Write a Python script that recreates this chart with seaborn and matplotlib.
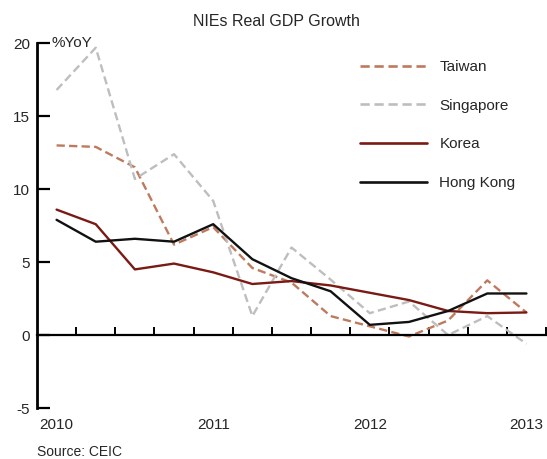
import numpy as np
import pandas as pd
import seaborn as sns
import matplotlib.pyplot as plt
from matplotlib.ticker import FixedLocator

# Quarterly real GDP growth, %YoY.
quarters = ["2010Q1", "2010Q2", "2010Q3", "2010Q4",
            "2011Q1", "2011Q2", "2011Q3", "2011Q4",
            "2012Q1", "2012Q2", "2012Q3", "2012Q4",
            "2013Q1"]
taiwan = [13.0, 12.9, 11.5, 6.2, 7.4, 4.6, 3.6, 1.3, 0.6, -0.1, 1.0, 3.75, 1.55]
singapore = [16.8, 19.7, 10.7, 12.4, 9.2, 1.3, 6.0, 3.8, 1.5, 2.3, 0.0, 1.3, -0.6]
korea = [8.6, 7.6, 4.5, 4.9, 4.3, 3.5, 3.7, 3.4, 2.9, 2.4, 1.65, 1.5, 1.55]
hong_kong = [7.9, 6.4, 6.6, 6.4, 7.6, 5.2, 3.9, 3.0, 0.7, 0.9, 1.65, 2.85, 2.85]

year_ticks = ["2010", "2011", "2012", "2013"]
y_ticks = [-5, 0, 5, 10, 15, 20]

series = ["Taiwan", "Singapore", "Korea", "Hong Kong"]
colors = {"Taiwan": "#BF7A5E", "Singapore": "#BEBEBE",
          "Korea": "#7A1A14", "Hong Kong": "#111111"}
dashes = {"Taiwan": (3.5, 1.8), "Singapore": (3.5, 1.8),
          "Korea": "", "Hong Kong": ""}

df = pd.DataFrame({
    "quarter": quarters * 4,
    "country": np.repeat(series, len(quarters)),
    "growth": taiwan + singapore + korea + hong_kong,
})

sns.set_theme(style="white")
plt.rcParams["font.family"] = ["Liberation Sans", "DejaVu Sans"]

fig = plt.figure(figsize=(5.47, 4.59), dpi=100)
ax = fig.add_axes([37 / 547, 1 - 408 / 459, (546 - 37) / 547, (408 - 43.3) / 459])

sns.lineplot(data=df, x="quarter", y="growth", hue="country", style="country",
             hue_order=series, style_order=series, palette=colors, dashes=dashes,
             linewidth=1.7, sort=False, ax=ax)

ax.set_xlim(-0.5, len(quarters) - 0.5)
ax.set_ylim(-5, 20)
ax.set_xlabel("")
ax.set_ylabel("")

# Spines: left axis plus a zero line carrying the quarter ticks.
for s in ["top", "right"]:
    ax.spines[s].set_visible(False)
ax.spines["left"].set_linewidth(2.0)
ax.spines["left"].set_color("black")
ax.spines["bottom"].set_position(("data", 0))
ax.spines["bottom"].set_linewidth(1.6)
ax.spines["bottom"].set_color("black")

ax.set_yticks(y_ticks)
ax.set_yticklabels([str(v) for v in y_ticks])
ax.tick_params(axis="y", direction="in", length=9, width=1.6, color="black",
               left=True, pad=5, labelsize=11)

ax.set_xticks([0, 4, 8, 12])
ax.set_xticklabels(year_ticks)
ax.xaxis.set_minor_locator(FixedLocator(np.arange(0.5, len(quarters), 1)))
ax.tick_params(axis="x", which="major", length=0, pad=60, labelsize=11)
ax.tick_params(axis="x", which="minor", direction="in", length=6, width=1.4,
               color="black", bottom=True)

ax.text(0.029, 20, "%YoY", transform=ax.get_yaxis_transform(),
        fontsize=11, va="center", ha="left")

leg = ax.legend(loc="upper left", bbox_to_anchor=(360 / 547, 1 - 60 / 459),
                bbox_transform=fig.transFigure, frameon=False, fontsize=11,
                borderaxespad=0, borderpad=0, handlelength=4.4,
                handletextpad=0.8, labelspacing=1.62)
for line in leg.get_lines():
    line.set_linewidth(1.9)

fig.text(276 / 547, 1 - 21 / 459, "NIEs Real GDP Growth", ha="center",
         va="center", fontsize=11.5)
fig.text(37 / 547, 1 - 452 / 459, "Source: CEIC", ha="left", va="center",
         fontsize=10)

fig.savefig("out.png", dpi=100)
